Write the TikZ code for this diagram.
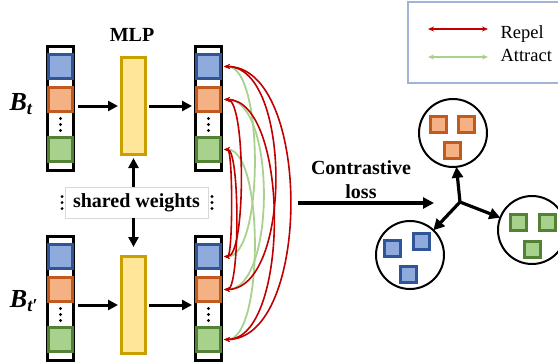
\documentclass[tikz,border=0pt]{standalone}
\usepackage{fontspec}
\setmainfont{Liberation Serif}
\usetikzlibrary{arrows.meta}

\definecolor{sqblue}{HTML}{8FAADC}
\definecolor{sqblueD}{HTML}{2F5597}
\definecolor{sqorange}{HTML}{F4B183}
\definecolor{sqorangeD}{HTML}{C05A1E}
\definecolor{sqgreen}{HTML}{A9D18E}
\definecolor{sqgreenD}{HTML}{548235}
\definecolor{mlpfill}{HTML}{FFE699}
\definecolor{mlpline}{HTML}{C9A000}
\definecolor{repelred}{HTML}{C00000}
\definecolor{attractgreen}{HTML}{A9D18E}
\definecolor{legendline}{HTML}{9FB4D6}

\tikzset{
  column/.style={draw, line width=3pt, minimum width=26pt, minimum height=124pt, inner sep=0pt},
  feat/.style={line width=3pt, minimum size=24pt, inner sep=0pt},
  fblue/.style={feat, draw=sqblueD, fill=sqblue},
  forange/.style={feat, draw=sqorangeD, fill=sqorange},
  fgreen/.style={feat, draw=sqgreenD, fill=sqgreen},
  mlp/.style={draw=mlpline, fill=mlpfill, line width=3pt, minimum width=24pt, minimum height=97pt, inner sep=0pt},
  flow/.style={line width=3pt, -{Triangle[length=10pt,width=10pt]}},
  bigflow/.style={line width=3.2pt, -{Triangle[length=11pt,width=11pt]}},
  repel/.style={repelred, line width=1.6pt, {Stealth[length=6pt,width=5pt]}-{Stealth[length=6pt,width=5pt]}},
  attract/.style={attractgreen, line width=1.8pt, {Stealth[length=6pt,width=5pt]}-{Stealth[length=6pt,width=5pt]}},
  cluster/.style={draw, circle, line width=2pt, minimum size=68pt, inner sep=0pt},
  csq/.style={line width=3pt, minimum size=16pt, inner sep=0pt},
  lbl/.style={font=\fontsize{20}{24}\selectfont\bfseries, align=center},
}

% one feature column: frame, three squares and the dots
\newcommand{\featstack}[3]{%
  \node[column] (#1) at (#2,#3) {};
  \node[fblue] (#1b) at (#2,#3-42) {};
  \node[forange] (#1o) at (#2,#3-9) {};
  \node[fgreen] (#1g) at (#2,#3+41) {};
  \foreach \d in {-6,0,6} \fill (#2,#3+16+\d) circle (1.6pt);
}

\begin{document}
\begin{tikzpicture}[x=1pt, y=-1pt]
\useasboundingbox (0,0) rectangle (558,364);

% Input and projected features
\featstack{xa}{60.5}{108.5}
\featstack{pa}{208.5}{108.5}
\featstack{xb}{60.5}{298.5}
\featstack{pb}{208.5}{298.5}

\node[font=\fontsize{26}{26}\selectfont\bfseries\itshape] (bt) at (21,104) {B\textsubscript{t}};
\node[font=\fontsize{26}{26}\selectfont\bfseries\itshape] (btp) at (24,301) {B\textsubscript{t′}};

% MLP blocks
\node[mlp] (m1) at (133.5,106) {};
\node[mlp] (m2) at (133.5,305) {};
\node[lbl] (mlplbl) at (132,35) {MLP};

\draw[flow, shorten <=3pt, shorten >=2pt] (xa.east |- m1) -- (m1.west);
\draw[flow, shorten <=2pt, shorten >=2pt] (m1.east) -- (pa.west |- m1);
\draw[flow, shorten <=3pt, shorten >=2pt] (xb.east |- m2) -- (m2.west);
\draw[flow, shorten <=2pt, shorten >=2pt] (m2.east) -- (pb.west |- m2);

% Shared weights
\node[draw=black!15, fill=white, line width=0.8pt, minimum width=143pt, minimum height=31pt,
  inner sep=0pt, font=\fontsize{20}{24}\selectfont\bfseries] (sw) at (136.5,202.5) {shared weights};
\foreach \d in {-6,0,6} {
  \fill ([xshift=-2.5pt, yshift=\d pt]sw.west) circle (1.6pt);
  \fill ([xshift=3.5pt, yshift=\d pt]sw.east) circle (1.6pt);
}
\draw[flow, shorten >=2pt] (sw.north -| m1) -- (m1.south);
\draw[flow, shorten >=8pt] (sw.south -| m2) -- (m2.north);

% Attract pairs
\draw[attract] ([xshift=2pt]pab.east) .. controls +(40,0) and +(40,0) .. ([xshift=2pt]pbb.east);
\draw[attract] ([xshift=2pt]pao.east) .. controls +(52,0) and +(52,0) .. ([xshift=2pt]pbo.east);
\draw[attract] ([xshift=2pt]pag.east) .. controls +(40,0) and +(40,0) .. ([xshift=2pt]pbg.east);

% Repel pairs
\draw[repel] ([xshift=2pt]pag.east) .. controls +(9,0) and +(9,0) .. ([xshift=2pt]pbb.east);
\draw[repel] ([xshift=2pt]pag.east) .. controls +(16,0) and +(16,0) .. ([xshift=2pt]pbo.east);
\draw[repel] ([xshift=2pt]pao.east) .. controls +(22,0) and +(22,0) .. ([xshift=2pt]pbb.east);
\draw[repel] ([xshift=2pt]pao.east) .. controls +(66,0) and +(66,0) .. ([xshift=2pt]pbg.east);
\draw[repel] ([xshift=2pt]pab.east) .. controls +(68,0) and +(68,0) .. ([xshift=2pt]pbo.east);
\draw[repel] ([xshift=2pt]pab.east) .. controls +(88,0) and +(88,0) .. ([xshift=2pt]pbg.east);

% Contrastive loss
\node[lbl] (loss) at (361,180) {Contrastive\\loss};
\coordinate (lossin) at (298,203);
\coordinate (lossout) at (434,203);
\draw[bigflow] (lossin) -- (lossout);

% Clusters
\node[cluster] (oc) at (453,133) {};
\node[cluster] (bc) at (410,255) {};
\node[cluster] (gc) at (532,230) {};

\node[csq, draw=sqorangeD, fill=sqorange] (o1) at (438,124) {};
\node[csq, draw=sqorangeD, fill=sqorange] (o2) at (466,124) {};
\node[csq, draw=sqorangeD, fill=sqorange] (o3) at (452,150) {};
\node[csq, draw=sqblueD, fill=sqblue] (b1) at (392,248) {};
\node[csq, draw=sqblueD, fill=sqblue] (b2) at (421,241) {};
\node[csq, draw=sqblueD, fill=sqblue] (b3) at (408,274) {};
\node[csq, draw=sqgreenD, fill=sqgreen] (g1) at (518,222) {};
\node[csq, draw=sqgreenD, fill=sqgreen] (g2) at (547,222) {};
\node[csq, draw=sqgreenD, fill=sqgreen] (g3) at (532,249) {};

\coordinate (hub) at (460,202);
\draw[bigflow, shorten >=-1pt] (hub) -- (oc);
\draw[bigflow, shorten >=-1pt] (hub) -- (bc);
\draw[bigflow, shorten >=-1pt] (hub) -- (gc);

% Legend
\draw[legendline, line width=1.5pt] (408,2) rectangle (564,83);
\node[anchor=base west, font=\fontsize{18.5}{20}\selectfont] (rp) at (497,38) {Repel};
\node[anchor=base west, font=\fontsize{18.5}{20}\selectfont] (at) at (497,61) {Attract};
\coordinate (rpa) at (428,29);
\coordinate (rpb) at (488,29);
\coordinate (ata) at (428,57);
\coordinate (atb) at (488,57);
\draw[repel] (rpa) -- (rpb);
\draw[attract] (ata) -- (atb);

\end{tikzpicture}
\end{document}
